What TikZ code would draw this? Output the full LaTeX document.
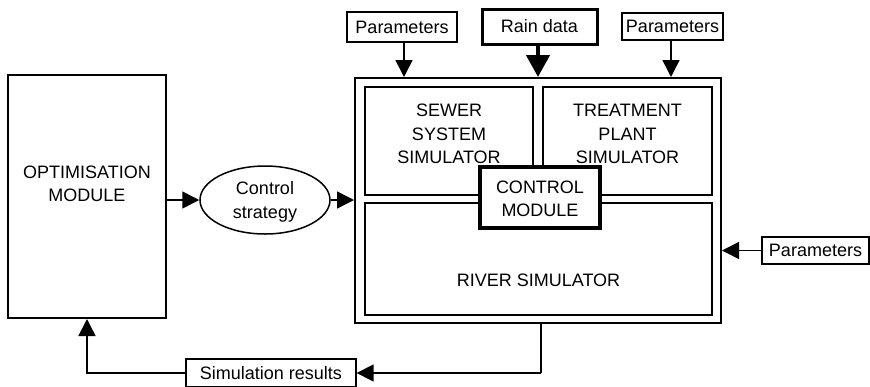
\documentclass[tikz,border=0pt]{standalone}
\usepackage{fontspec}
\setmainfont{Liberation Sans}
\usetikzlibrary{arrows.meta,shapes.geometric}
\begin{document}
\begin{tikzpicture}[x=1pt,y=-1pt,
  box/.style={draw,rectangle,inner sep=0pt,fill=white},
  lbl/.style={align=center,font=\fontsize{18}{23.5}\selectfont,inner sep=0pt},
  smallbox/.style={draw,rectangle,line width=1.3pt,inner sep=0pt,fill=white,font=\fontsize{18}{21}\selectfont},
  arr/.style={line width=1.5pt,-{Triangle[width=17pt,length=17pt]}},
  conn/.style={line width=1.5pt}]
\useasboundingbox (0,0) rectangle (870,386);
% main boxes
\node[box,line width=2pt,minimum width=158pt,minimum height=243pt] (opt) at (87,196.5) {};
\node[lbl] (optl) at (87,184) {OPTIMISATION\\MODULE};
\node[draw,ellipse,line width=1.5pt,minimum width=130pt,minimum height=68pt,inner sep=0pt] (ell) at (265,200) {};
\node[lbl] (elll) at (265,202) {Control\\strategy};
\node[box,line width=2pt,minimum width=366pt,minimum height=245pt] (outer) at (538,200.5) {};
\node[box,line width=2.5pt,minimum width=168pt,minimum height=108pt] (sewer) at (449,141) {};
\node[lbl] (sewerl) at (449,134) {SEWER\\SYSTEM\\SIMULATOR};
\node[box,line width=2.5pt,minimum width=169pt,minimum height=108pt] (treat) at (627.5,141) {};
\node[lbl] (treatl) at (627.5,134) {TREATMENT\\PLANT\\SIMULATOR};
\node[box,line width=2.5pt,minimum width=347pt,minimum height=112pt] (river) at (538.5,259) {};
\node[lbl] (riverl) at (538.5,280) {RIVER SIMULATOR};
\node[box,line width=4pt,minimum width=120pt,minimum height=61pt] (ctrl) at (540,197.5) {};
\node[lbl] (ctrll) at (540,199) {CONTROL\\MODULE};
% input boxes
\node[smallbox,minimum width=110pt,minimum height=30pt] (p1) at (402,27) {Parameters};
\node[smallbox,line width=3pt,minimum width=115pt,minimum height=35pt] (rain) at (539.5,26.5) {Rain data};
\node[smallbox,minimum width=101pt,minimum height=27pt] (p2) at (672.5,26.5) {Parameters};
\node[smallbox,minimum width=107pt,minimum height=27pt] (p3) at (815.5,250.5) {Parameters};
\node[smallbox,minimum width=170pt,minimum height=28pt] (sim) at (271,373) {Simulation results};
% connectors
\draw[arr] (ell.west -| opt.east) -- (ell.west);
\draw[arr] (ell.east) -- (ell.east -| outer.west);
\draw[arr] (p1.south) ++(2,0) coordinate (p1s) -- (p1s |- outer.north);
\draw[line width=4.5pt,-{Triangle[width=23pt,length=22pt]}] (rain.south) ++(-1.5,0) coordinate (rs) -- (rs |- outer.north);
\draw[arr] (p2.south) ++(-1.5,0) coordinate (p2s) -- (p2s |- outer.north);
\draw[arr] (p3.west) -- (p3.west -| outer.east);
\draw[conn] (outer.south) ++(3,0) coordinate (os) -- (os |- sim.east) coordinate (oc);
\draw[arr] (oc) -- (sim.east);
\draw[arr] (sim.west) -- (sim.west -| opt.south) -- (opt.south);
\end{tikzpicture}
\end{document}
